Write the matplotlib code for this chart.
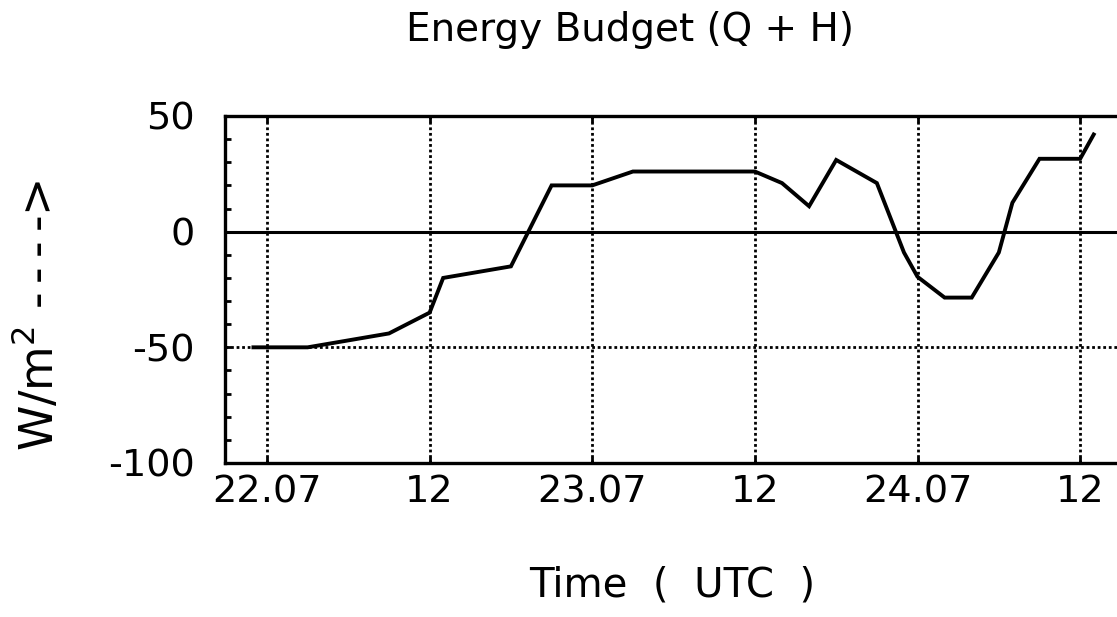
import matplotlib
matplotlib.use("Agg")
import matplotlib.pyplot as plt
from matplotlib.ticker import MultipleLocator, FixedLocator

# Hours since 22.07 00 UTC and the energy budget Q + H in W/m^2
hours = [-1, 3, 9, 12, 13, 18, 21, 24, 27, 36, 38, 40, 42, 45, 47, 48,
         50, 52, 54, 55, 57, 60, 61]
budget = [-50, -50, -44, -35, -20, -15, 20, 20, 26, 26, 21, 11, 31, 21, -9,
          -19.5, -28.5, -28.5, -9, 12.5, 31.5, 31.5, 42]

tick_hours = [0, 12, 24, 36, 48, 60]
tick_labels = ["22.07", "12", "23.07", "12", "24.07", "12"]
y_ticks = [50, 0, -50, -100]

plt.rcParams["font.family"] = ["DejaVu Sans"]
plt.rcParams["axes.unicode_minus"] = False

fig = plt.figure(figsize=(11.17, 6.17), dpi=100)
ax = fig.add_axes([0.2014, 0.2496, 0.819, 0.5624])

ax.set_xlim(-3.1, 64.4)
ax.set_ylim(-100, 50)

# dotted grid: vertical at every 12 h, horizontal at -50; solid zero line
for h in tick_hours:
    ax.axvline(h, color="black", lw=2.0, ls=(0, (1, 1)), zorder=1)
ax.axhline(-50, color="black", lw=2.0, ls=(0, (1, 1)), zorder=1)
ax.axhline(0, color="black", lw=2.2, zorder=2)

ax.plot(hours, budget, color="black", lw=2.8, solid_joinstyle="miter", zorder=3)

for side in ("left", "bottom", "top", "right"):
    ax.spines[side].set_linewidth(2.4)

ax.xaxis.set_major_locator(FixedLocator(tick_hours))
ax.set_xticklabels(tick_labels)
ax.yaxis.set_major_locator(FixedLocator(y_ticks))
ax.yaxis.set_minor_locator(MultipleLocator(10))
ax.tick_params(axis="x", which="major", direction="in", length=4, width=2,
               labelsize=27.5, pad=8, top=True)
ax.tick_params(axis="y", which="both", direction="in", length=4, width=2,
               labelsize=27.5, pad=22)

fig.text(630 / 1117, 1 - 30 / 617, "Energy Budget (Q + H)", fontsize=28,
         ha="center", va="center")
fig.text(672 / 1117, 1 - 585 / 617, "Time  (  UTC  )", fontsize=29,
         ha="center", va="center")
fig.text(38 / 1117, 1 - 315 / 617, "W/m$^2$ -\u2009-\u2009-\u2009->",
         fontsize=33, rotation=90, ha="center", va="center")

fig.savefig("out.png", dpi=100)
